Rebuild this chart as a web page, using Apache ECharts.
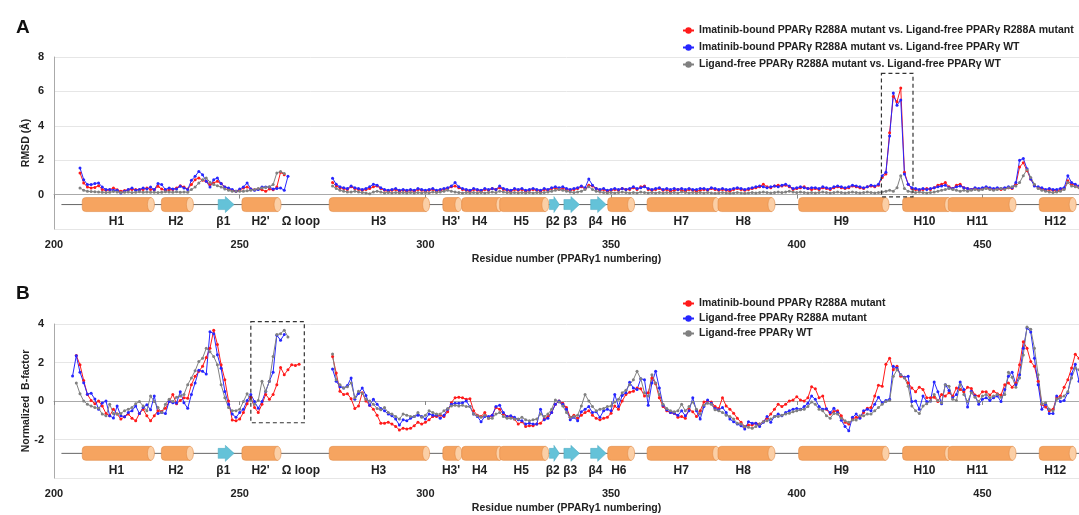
<!DOCTYPE html>
<html>
<head>
<meta charset="utf-8">
<script src="https://cdn.jsdelivr.net/npm/echarts@6/dist/echarts.min.js"></script>
<style>
html, body { margin: 0; padding: 0; background: #fff; }
#chart { width: 1079px; height: 515px; }
</style>
</head>
<body>
<div id="chart"></div>
<script>
// ---- series names ----
var namesA = [
    'Imatinib-bound PPARγ R288A mutant vs. Ligand-free PPARγ R288A mutant',
    'Imatinib-bound PPARγ R288A mutant vs. Ligand-free PPARγ WT',
    'Ligand-free PPARγ R288A mutant vs. Ligand-free PPARγ WT'
];
var namesB = [
    'Imatinib-bound PPARγ R288A mutant',
    'Ligand-free PPARγ R288A mutant',
    'Ligand-free PPARγ WT'
];

// ---- panel A: RMSD, first residue of each segment ----
var rmsdStart1 = [207, 207, 207];
var rmsdStart2 = [275, 275, 275];

var rmsdRed1 = [
    1.26, 0.68, 0.44, 0.39, 0.42, 0.52, 0.29, 0.25, 0.28, 0.39,
    0.28, 0.19, 0.24, 0.28, 0.3, 0.3, 0.28, 0.3, 0.39, 0.3,
    0.28, 0.48, 0.32, 0.25, 0.28, 0.3, 0.39, 0.52, 0.44, 0.32,
    0.58, 0.87, 0.97, 0.83, 0.77, 0.58, 0.68, 0.77, 0.64, 0.44,
    0.33, 0.25, 0.19, 0.25, 0.39, 0.44, 0.33, 0.28, 0.33, 0.28,
    0.19, 0.33, 0.28, 0.44, 1.3, 1.16
];
var rmsdBlue1 = [
    1.55, 0.87, 0.58, 0.58, 0.64, 0.68, 0.44, 0.29, 0.29, 0.25,
    0.25, 0.1, 0.19, 0.29, 0.39, 0.25, 0.29, 0.39, 0.33, 0.44,
    0.29, 0.64, 0.58, 0.29, 0.39, 0.33, 0.33, 0.48, 0.39, 0.29,
    0.83, 1.06, 1.35, 1.16, 0.77, 0.44, 0.87, 0.97, 0.64, 0.44,
    0.39, 0.29, 0.19, 0.33, 0.44, 0.68, 0.33, 0.25, 0.3, 0.44,
    0.44, 0.44, 0.33, 0.35, 0.39, 0.25, 1.06
];
var rmsdGray1 = [
    0.39, 0.25, 0.19, 0.18, 0.16, 0.15, 0.14, 0.12, 0.14, 0.18,
    0.15, 0.12, 0.14, 0.15, 0.12, 0.14, 0.16, 0.14, 0.15, 0.14,
    0.14, 0.12, 0.14, 0.16, 0.15, 0.14, 0.16, 0.14, 0.15, 0.14,
    0.29, 0.44, 0.68, 0.87, 0.97, 0.72, 0.58, 0.52, 0.44, 0.33,
    0.25, 0.19, 0.19, 0.19, 0.2, 0.22, 0.25, 0.3, 0.35, 0.39,
    0.42, 0.45, 0.58, 1.26, 1.35, 1.22
];
var rmsdRed2 = [
    0.7, 0.5, 0.4, 0.35, 0.3, 0.45, 0.35, 0.3, 0.25, 0.3,
    0.35, 0.45, 0.5, 0.35, 0.25, 0.2, 0.25, 0.3, 0.2, 0.25,
    0.2, 0.25, 0.2, 0.3, 0.25, 0.2, 0.25, 0.3, 0.2, 0.25,
    0.3, 0.35, 0.45, 0.5, 0.4, 0.3, 0.25, 0.2, 0.3, 0.25,
    0.2, 0.3, 0.25, 0.35, 0.3, 0.4, 0.3, 0.25, 0.2, 0.3,
    0.25, 0.3, 0.2, 0.25, 0.3, 0.25, 0.2, 0.3, 0.25, 0.35,
    0.4, 0.3, 0.35, 0.3, 0.25, 0.3, 0.35, 0.45, 0.35, 0.55,
    0.5, 0.35, 0.25, 0.3, 0.2, 0.25, 0.3, 0.25, 0.35, 0.3,
    0.3, 0.4, 0.3, 0.45, 0.5, 0.3, 0.25, 0.3, 0.35, 0.25,
    0.3, 0.2, 0.25, 0.3, 0.25, 0.2, 0.3, 0.25, 0.2, 0.25,
    0.3, 0.25, 0.35, 0.3, 0.25, 0.3, 0.25, 0.2, 0.3, 0.35,
    0.3, 0.25, 0.3, 0.35, 0.4, 0.45, 0.6, 0.45, 0.4, 0.5,
    0.55, 0.5, 0.55, 0.45, 0.3, 0.35, 0.4, 0.45, 0.35, 0.3,
    0.35, 0.3, 0.4, 0.35, 0.3, 0.4, 0.45, 0.4, 0.35, 0.4,
    0.5, 0.45, 0.4, 0.35, 0.45, 0.5, 0.45, 0.55, 1.0, 1.2,
    3.6, 5.7, 5.4, 6.2, 1.3, 0.6, 0.35, 0.3, 0.25, 0.3,
    0.35, 0.3, 0.4, 0.55, 0.6, 0.7, 0.45, 0.35, 0.55, 0.6,
    0.4, 0.35, 0.3, 0.35, 0.3, 0.35, 0.4, 0.35, 0.3, 0.35,
    0.3, 0.35, 0.4, 0.35, 0.6, 1.6, 1.85, 1.4, 0.9, 0.55,
    0.4, 0.35, 0.25, 0.3, 0.25, 0.2, 0.3, 0.35, 0.8, 0.6,
    0.55, 0.45
];
var rmsdBlue2 = [
    0.95, 0.6, 0.45, 0.4, 0.35, 0.5, 0.4, 0.35, 0.3, 0.35,
    0.45, 0.6, 0.55, 0.4, 0.3, 0.25, 0.3, 0.35, 0.25, 0.3,
    0.25, 0.3, 0.25, 0.35, 0.3, 0.25, 0.3, 0.35, 0.25, 0.3,
    0.35, 0.4, 0.5, 0.7, 0.45, 0.35, 0.3, 0.25, 0.35, 0.3,
    0.25, 0.35, 0.3, 0.35, 0.3, 0.5, 0.35, 0.3, 0.25, 0.35,
    0.3, 0.35, 0.25, 0.3, 0.35, 0.3, 0.25, 0.35, 0.3, 0.4,
    0.45, 0.4, 0.45, 0.35, 0.3, 0.35, 0.4, 0.5, 0.4, 0.9,
    0.55, 0.35, 0.3, 0.35, 0.25, 0.3, 0.35, 0.3, 0.35, 0.3,
    0.35, 0.45, 0.35, 0.4, 0.45, 0.35, 0.3, 0.35, 0.4, 0.3,
    0.35, 0.3, 0.35, 0.3, 0.35, 0.3, 0.35, 0.3, 0.3, 0.35,
    0.35, 0.3, 0.4, 0.35, 0.3, 0.35, 0.3, 0.3, 0.35, 0.4,
    0.35, 0.3, 0.35, 0.4, 0.45, 0.5, 0.45, 0.4, 0.45, 0.5,
    0.45, 0.55, 0.6, 0.5, 0.35, 0.4, 0.45, 0.4, 0.35, 0.4,
    0.4, 0.35, 0.45, 0.4, 0.35, 0.45, 0.5, 0.45, 0.4, 0.45,
    0.55, 0.5, 0.45, 0.4, 0.45, 0.55, 0.5, 0.6, 1.1, 1.3,
    3.4, 5.9, 5.2, 5.5, 1.2, 0.6, 0.4, 0.35, 0.3, 0.35,
    0.3, 0.35, 0.4, 0.45, 0.5, 0.55, 0.4, 0.35, 0.45, 0.5,
    0.4, 0.35, 0.3, 0.4, 0.35, 0.4, 0.45, 0.4, 0.35, 0.4,
    0.35, 0.4, 0.45, 0.4, 0.7, 2.0, 2.1, 1.5, 0.9, 0.5,
    0.45, 0.4, 0.3, 0.35, 0.3, 0.3, 0.35, 0.4, 1.1, 0.7,
    0.6, 0.5
];
var rmsdGray2 = [
    0.5, 0.35, 0.25, 0.2, 0.15, 0.15, 0.2, 0.15, 0.12, 0.1,
    0.05, 0.15, 0.2, 0.15, 0.1, 0.12, 0.1, 0.12, 0.1, 0.12,
    0.1, 0.12, 0.1, 0.12, 0.1, 0.12, 0.1, 0.15, 0.12, 0.15,
    0.2, 0.25, 0.2, 0.15, 0.12, 0.1, 0.12, 0.1, 0.12, 0.1,
    0.12, 0.1, 0.12, 0.15, 0.12, 0.2, 0.15, 0.12, 0.1, 0.12,
    0.1, 0.12, 0.1, 0.12, 0.1, 0.12, 0.1, 0.12, 0.15, 0.2,
    0.25, 0.3, 0.25, 0.2, 0.15, 0.12, 0.15, 0.2, 0.3, 0.45,
    0.3, 0.2, 0.15, 0.12, 0.1, 0.12, 0.1, 0.12, 0.15, 0.12,
    0.1, 0.12, 0.1, 0.15, 0.12, 0.1, 0.12, 0.1, 0.12, 0.1,
    0.12, 0.1, 0.12, 0.1, 0.15, 0.12, 0.1, 0.12, 0.1, 0.12,
    0.1, 0.12, 0.1, 0.08, 0.1, 0.12, 0.1, 0.08, 0.1, 0.12,
    0.1, 0.08, 0.1, 0.12, 0.1, 0.12, 0.15, 0.12, 0.1, 0.12,
    0.15, 0.12, 0.15, 0.2, 0.15, 0.12, 0.15, 0.12, 0.1, 0.12,
    0.1, 0.12, 0.15, 0.12, 0.1, 0.12, 0.15, 0.12, 0.1, 0.12,
    0.15, 0.12, 0.1, 0.12, 0.15, 0.12, 0.1, 0.12, 0.15, 0.2,
    0.25, 0.2, 0.4, 1.1, 0.35, 0.2, 0.15, 0.12, 0.15, 0.12,
    0.1, 0.12, 0.15, 0.2, 0.25, 0.3, 0.35, 0.3, 0.25, 0.2,
    0.25, 0.2, 0.25, 0.3, 0.25, 0.3, 0.35, 0.3, 0.25, 0.3,
    0.35, 0.3, 0.4, 0.45, 0.5, 0.7, 1.1, 1.45, 1.0, 0.6,
    0.35, 0.25, 0.2, 0.15, 0.12, 0.15, 0.2, 0.3, 0.7, 0.5,
    0.45, 0.4
];

// ---- panel B: normalized B-factor ----
var bfStart1 = [206, 205, 206];
var bfStart2 = [275, 275, 275];

var bfRed1 = [
    2.36, 1.88, 1.06, 0.34, 0.03, -0.14, 0.0, -0.26, -0.65, -0.77,
    -0.43, -0.68, -0.94, -0.82, -0.68, -0.89, -1.03, -0.65, -0.43, -0.77,
    -1.03, -0.77, -0.5, -0.55, -0.38, -0.03, 0.34, -0.14, 0.03, 0.17,
    0.14, 0.85, 1.28, 1.54, 1.8, 2.26, 2.74, 3.68, 2.94, 1.88,
    1.11, 0.0, -0.99, -1.03, -0.94, -0.6, -0.14, 0.2, -0.34, -0.6,
    -0.17, 0.34, 0.09, 0.34, 0.85, 1.74, 1.37, 1.62, 1.88, 1.85, 1.91
];
var bfBlue1 = [
    1.3, 2.35, 1.5, 0.95, 0.35, 0.4, 0.1, -0.43, -0.1, 0.0,
    -0.77, -0.88, -0.26, -0.77, -0.82, -0.6, -0.5, -0.26, -0.65, -0.34,
    -0.2, -0.45, 0.26, -0.65, -0.6, -0.65, -0.03, -0.09, -0.1, 0.48,
    -0.09, -0.38, 0.34, 0.94, 1.6, 1.54, 1.4, 3.6, 3.5, 2.4,
    1.7, 0.5, -0.17, -0.68, -0.85, -0.6, -0.43, 0.03, 0.34, -0.03,
    -0.38, -0.03, 0.5, 1.03, 1.5, 3.42, 3.16, 3.45
];
var bfGray1 = [
    0.94, 0.38, 0, -0.17, -0.26, -0.34, -0.38, -0.68, -0.77, -0.17,
    -0.65, -0.68, -0.65, -0.5, -0.43, -0.34, -0.14, -0.03, -0.26, -0.5,
    0.26, -0.03, -0.34, -0.6, -0.17, 0.09, -0.03, 0.2, 0.26, 0.34,
    0.85, 1.2, 1.57, 2.05, 2.22, 2.74, 2.56, 2.31, 1.88, 0.85,
    0.17, -0.34, -0.5, -0.5, -0.43, -0.03, 0.38, 0.03, -0.17, 0.03,
    1.03, 0.51, 1.03, 2.31, 3.45, 3.5, 3.68, 3.33
];
var bfRed2 = [
    2.31, 1.45, 0.51, 0.34, 0.38, 0.12, -0.39, -0.26, 0.43, 0.0,
    -0.22, -0.43, -0.74, -1.15, -1.15, -1.1, -1.2, -1.32, -1.5, -1.42,
    -1.45, -1.42, -1.28, -1.11, -1.2, -1.11, -0.97, -0.8, -0.8, -0.74,
    -0.8, -0.56, -0.09, 0.17, 0.2, 0.17, 0.09, 0.12, -0.51, -0.74,
    -0.8, -0.6, -0.9, -0.74, -0.34, -0.43, -0.68, -0.8, -0.8, -0.94,
    -1.2, -1.08, -1.32, -1.28, -1.28, -1.2, -1.15, -0.94, -0.8, -0.6,
    -0.17, 0.0, -0.12, -0.34, -0.85, -0.74, -0.9, -0.74, -0.6, -0.51,
    -0.74, -0.9, -0.97, -0.9, -0.85, -0.63, -0.26, -0.43, 0.0, 0.34,
    0.46, 0.51, 0.68, 0.63, 0.26, 0.43, 1.2, 0.9, 0.17, -0.29,
    -0.51, -0.6, -0.63, -0.85, -0.8, -0.9, -0.43, -0.56, -0.8, -0.51,
    -0.05, 0.0, -0.05, -0.29, -0.39, 0.17, -0.26, -0.43, -0.63, -0.9,
    -1.11, -1.32, -1.25, -1.25, -1.15, -1.2, -1.08, -0.9, -0.68, -0.43,
    -0.17, -0.29, -0.17, 0.0, 0.05, 0.22, 0.05, 0.0, 0.17, 0.74,
    0.63, 0.17, 0.26, -0.43, -0.68, -0.55, -0.5, -0.77, -1.11, -1.2,
    -0.94, -0.85, -0.85, -0.6, -0.38, -0.34, 0.26, 0.82, 0.77, 1.91,
    2.22, 1.62, 1.8, 1.28, 1.23, 0.94, 0.68, 0.48, 0.72, 0.6,
    0.17, 0.17, 0.2, -0.03, 0.34, 0.26, 0.43, 0.26, 0.68, 0.6,
    0.48, 0.72, 0.65, 0.31, 0.26, 0.48, 0.48, 0.31, 0.51, 0.38,
    0.31, 0.85, 0.94, 0.72, 0.94, 1.88, 3.08, 2.74, 2.05, 1.8,
    1.03, -0.17, -0.31, -0.51, -0.43, 0.17, 0.26, 0.72, 1.11, 1.71,
    2.43, 2.22
];
var bfBlue2 = [
    1.66, 1.03, 0.74, 0.68, 0.8, 1.2, 0.09, 0.39, 0.68, 0.29,
    -0.22, 0.09, -0.17, -0.39, -0.51, -0.68, -0.77, -0.94, -1.25, -0.97,
    -1.03, -0.9, -0.8, -0.74, -0.8, -0.94, -0.68, -0.74, -0.74, -0.9,
    -0.74, -0.43, -0.17, -0.12, -0.12, -0.09, 0.0, -0.29, -0.68, -0.8,
    -1.08, -0.8, -0.8, -0.74, -0.29, -0.22, -0.6, -0.8, -0.77, -0.85,
    -0.97, -1.03, -1.2, -1.15, -1.2, -1.2, -0.43, -0.97, -0.9, -0.6,
    -0.17, 0.0, -0.17, -0.43, -0.97, -0.85, -1.03, -0.56, -0.43, -0.29,
    -0.6, -0.56, -0.85, -0.51, -0.43, -0.51, 0.34, -0.29, 0.29, 0.43,
    0.97, 0.68, 0.6, 1.15, 1.11, -0.22, 0.94, 1.54, 0.68, -0.22,
    -0.46, -0.6, -0.63, -0.74, -0.51, -0.77, -0.51, 0.17, -0.51, -0.94,
    -0.29, 0.05, -0.12, -0.39, -0.46, -0.34, -0.6, -0.94, -1.08, -1.2,
    -1.28, -1.45, -1.08, -1.15, -1.15, -1.32, -1.11, -0.8, -1.11, -0.8,
    -0.68, -0.77, -0.6, -0.51, -0.43, -0.39, -0.43, -0.29, -0.12, 0.26,
    0.09, -0.29, -0.43, -0.4, -0.6, -0.38, -0.6, -1.0, -1.33, -1.54,
    -0.85, -0.68, -0.89, -0.51, -0.43, -0.5, -0.17, 0.2, -0.09, 0.03,
    0.09, 1.8, 1.71, 1.37, 1.23, 1.28, -0.03, 0.0, -0.43, 0.26,
    -0.03, 0.0, 0.99, 0.48, -0.14, 0.85, 0.55, 0.17, 0.34, 0.99,
    0.6, -0.31, 0.51, 0.26, -0.17, 0.09, 0.17, 0.03, 0.17, 0.26,
    -0.03, 0.6, 1.28, 1.5, 0.85, 1.37, 2.74, 3.79, 3.59, 2.22,
    0.85, -0.43, -0.17, -0.65, -0.65, 0.26, -0.03, 0.03, 0.43, 1.4,
    1.91, 1.03
];
var bfGray2 = [
    2.44, 1.11, 0.85, 0.68, 0.74, 0.94, 0.17, 0.51, 0.39, 0.09,
    0.0, -0.17, -0.39, -0.46, -0.34, -0.6, -0.68, -0.8, -0.94, -0.68,
    -0.74, -0.8, -0.8, -0.6, -0.85, -0.74, -0.51, -0.6, -0.68, -0.68,
    -0.51, -0.39, -0.26, -0.22, -0.26, -0.22, -0.29, -0.29, -0.68, -0.77,
    -0.85, -0.74, -0.9, -0.9, -0.68, -0.6, -0.8, -0.9, -0.9, -0.94,
    -0.94, -0.85, -0.97, -1.03, -0.97, -0.94, -0.68, -0.8, -0.68, -0.43,
    0.05, -0.05, -0.26, -0.6, -0.85, -0.8, -0.74, -0.26, 0.34, 0.0,
    -0.29, -0.51, -0.43, -0.39, -0.29, -0.26, -0.05, 0.09, 0.43, 0.56,
    0.85, 1.11, 1.54, 1.15, 0.43, 0.26, 1.37, 0.94, 0.34, -0.17,
    -0.39, -0.51, -0.56, -0.51, -0.17, -0.51, -0.29, -0.05, -0.43, -0.68,
    -0.22, -0.12, -0.17, -0.46, -0.51, -0.6, -0.74, -0.8, -0.94, -1.15,
    -1.2, -1.32, -1.37, -1.42, -1.32, -1.2, -1.08, -1.03, -0.94, -0.8,
    -0.8, -0.74, -0.68, -0.63, -0.56, -0.51, -0.46, -0.43, -0.29, -0.05,
    -0.17, -0.43, -0.51, -0.77, -0.89, -0.65, -0.68, -0.9, -1.03, -1.11,
    -0.99, -0.99, -0.77, -0.77, -0.68, -0.68, -0.51, -0.34, -0.17, -0.03,
    0.03, 1.28, 1.62, 1.37, 1.2, 0.77, -0.26, -0.51, -0.65, -0.26,
    -0.14, 0.0, 0.34, 0.03, -0.09, 0.85, 0.77, 0.09, 0.03, 0.85,
    0.34, -0.03, 0.43, 0.2, -0.03, 0.26, 0.34, 0.17, 0.26, 0.34,
    0.2, 0.34, 1.5, 1.23, 0.72, 1.2, 2.39, 3.85, 3.73, 2.74,
    1.37, -0.14, -0.09, -0.43, -0.51, 0.09, 0.17, 0.26, 0.48, 1.2,
    1.71, 1.62
];

// ---- secondary structure (residue numbers) ----
var helixStart = [207.6, 228.9, 250.6, 274.1, 304.7, 309.8, 320.0, 349.1, 359.7, 378.8, 400.5, 428.5, 440.8, 465.3];
var helixEnd   = [226.1, 236.6, 260.2, 300.2, 308.9, 320.0, 332.3, 355.4, 378.3, 393.2, 423.9, 440.8, 458.1, 474.3];
var strandStart = [244.2, 333.4, 337.3, 344.5];
var strandEnd   = [248.5, 336.1, 341.5, 348.7];
var ssLabels   = ['H1', 'H2', 'β1', "H2'", 'Ω loop', 'H3', "H3'", 'H4', 'H5', 'β2', 'β3', 'β4', 'H6', 'H7', 'H8', 'H9', 'H10', 'H11', 'H12'];
var ssLabelPos = [216.8, 232.8, 245.6, 255.6, 266.5, 287.4, 306.9, 314.6, 325.8, 334.3, 339.0, 345.8, 352.1, 368.9, 385.6, 412.0, 434.4, 448.6, 469.6];
var ssSpan = [202, 477];

// dashed boxes [x1, y1, x2, y2]
var boxA = [422.8, 7.05, 431.3, -0.13];
var boxB = [253.0, 4.12, 267.4, -1.13];

var colors = ['#ff1a1a', '#2626ff', '#808080'];

function toPairs(start, vals) {
    return vals.map(function (v, i) { return [start + i, v]; });
}
function joinSegs(s1, v1, s2, v2) {
    return toPairs(s1, v1).concat([[s1 + v1.length, '-']], toPairs(s2, v2));
}

function lineSeries(name, idx, data, color) {
    return {
        name: name,
        type: 'line',
        xAxisIndex: idx,
        yAxisIndex: idx,
        data: data,
        symbol: 'circle',
        symbolSize: 3,
        showSymbol: true,
        lineStyle: { width: 1, color: color },
        itemStyle: { color: color },
        emphasis: { disabled: true },
        animation: false
    };
}

function ssLineItem(level) {
    return function (params, api) {
        var p1 = api.coord([api.value(0), level]);
        var p2 = api.coord([api.value(1), level]);
        return {
            type: 'line',
            shape: { x1: p1[0], y1: p1[1], x2: p2[0], y2: p2[1] },
            style: { stroke: '#666', lineWidth: 1 }
        };
    };
}

function helixItem(level) {
    return function (params, api) {
        var p1 = api.coord([api.value(0), level]);
        var p2 = api.coord([api.value(1), level]);
        var h = 14, rx = 3.5;
        return {
            type: 'group',
            children: [
                {
                    type: 'rect',
                    shape: { x: p1[0], y: p1[1] - h / 2, width: p2[0] - p1[0], height: h, r: [rx, 0, 0, rx] },
                    style: { fill: '#f6a460', stroke: '#e38c46', lineWidth: 0.6 }
                },
                {
                    type: 'ellipse',
                    shape: { cx: p2[0], cy: p2[1], rx: rx, ry: h / 2 },
                    style: { fill: '#fbcfa6', stroke: '#e38c46', lineWidth: 0.6 }
                }
            ]
        };
    };
}

function strandItem(level) {
    return function (params, api) {
        var p1 = api.coord([api.value(0), level]);
        var p2 = api.coord([api.value(1), level]);
        var y = p1[1];
        var xm = p1[0] + (p2[0] - p1[0]) * 0.45;
        return {
            type: 'polygon',
            shape: {
                points: [[p1[0], y - 5], [xm, y - 5], [xm, y - 8], [p2[0], y], [xm, y + 8], [xm, y + 5], [p1[0], y + 5]]
            },
            style: { fill: '#64c2d8', stroke: '#4aa8c0', lineWidth: 0.5 }
        };
    };
}

function labelItem(level) {
    return function (params, api) {
        var p = api.coord([api.value(0), level]);
        return {
            type: 'text',
            style: {
                text: ssLabels[params.dataIndex],
                x: p[0],
                y: p[1] + 17,
                align: 'center',
                verticalAlign: 'middle',
                textAlign: 'center',
                textVerticalAlign: 'middle',
                fill: '#222',
                font: 'bold 12px "Liberation Sans", Arial, sans-serif'
            }
        };
    };
}

function boxItem(params, api) {
    var p1 = api.coord([api.value(0), api.value(1)]);
    var p2 = api.coord([api.value(2), api.value(3)]);
    return {
        type: 'rect',
        shape: { x: p1[0], y: p1[1], width: p2[0] - p1[0], height: p2[1] - p1[1] },
        style: { fill: 'none', stroke: '#333', lineWidth: 1.2, lineDash: [4, 3] }
    };
}

function ssSeries(idx, level) {
    function custom(render, data) {
        return {
            type: 'custom', xAxisIndex: idx, yAxisIndex: idx, silent: true,
            renderItem: render, data: data, animation: false, z: 1
        };
    }
    return [
        custom(ssLineItem(level), [ssSpan]),
        custom(helixItem(level), helixStart.map(function (s, i) { return [s, helixEnd[i]]; })),
        custom(strandItem(level), strandStart.map(function (s, i) { return [s, strandEnd[i]]; })),
        custom(labelItem(level), ssLabelPos.map(function (p) { return [p, 0]; }))
    ];
}

var axisFont = { color: '#222', fontWeight: 'bold', fontSize: 11 };

function xAxisDef(idx) {
    return {
        type: 'value', gridIndex: idx, min: 200, max: 476, interval: 50,
        axisLine: { show: true, lineStyle: { color: '#aaa' } },
        axisTick: { show: true, length: 4, lineStyle: { color: '#888' } },
        axisLabel: Object.assign({ margin: 10, showMaxLabel: false }, axisFont),
        splitLine: { show: false },
        name: 'Residue number (PPARγ1 numbering)',
        nameLocation: 'middle',
        nameGap: 25,
        nameTextStyle: { color: '#222', fontWeight: 'bold', fontSize: 10.5 }
    };
}

function yAxisDef(idx, min, max, name) {
    return {
        type: 'value', gridIndex: idx, min: min, max: max, interval: 2,
        axisLine: { show: true, lineStyle: { color: '#aaa' } },
        axisTick: { show: false },
        axisLabel: Object.assign({ margin: 10, showMinLabel: false }, axisFont),
        splitLine: { lineStyle: { color: '#e6e6e6' } },
        name: name,
        nameLocation: 'middle',
        nameRotate: 90,
        nameGap: 22,
        nameMoveOverlap: false,
        nameTextStyle: { color: '#222', fontWeight: 'bold', fontSize: 10.5 }
    };
}

var chart = echarts.init(document.getElementById('chart'));

var series = [
    lineSeries(namesA[0], 0, joinSegs(rmsdStart1[0], rmsdRed1, rmsdStart2[0], rmsdRed2), colors[0]),
    lineSeries(namesA[1], 0, joinSegs(rmsdStart1[1], rmsdBlue1, rmsdStart2[1], rmsdBlue2), colors[1]),
    lineSeries(namesA[2], 0, joinSegs(rmsdStart1[2], rmsdGray1, rmsdStart2[2], rmsdGray2), colors[2]),
    lineSeries(namesB[0], 1, joinSegs(bfStart1[0], bfRed1, bfStart2[0], bfRed2), colors[0]),
    lineSeries(namesB[1], 1, joinSegs(bfStart1[1], bfBlue1, bfStart2[1], bfBlue2), colors[1]),
    lineSeries(namesB[2], 1, joinSegs(bfStart1[2], bfGray1, bfStart2[2], bfGray2), colors[2])
];
series = series.concat(ssSeries(0, -0.58), ssSeries(1, -2.72));
series.push({ type: 'custom', xAxisIndex: 0, yAxisIndex: 0, silent: true, renderItem: boxItem, data: [boxA], z: 5 });
series.push({ type: 'custom', xAxisIndex: 1, yAxisIndex: 1, silent: true, renderItem: boxItem, data: [boxB], z: 5 });

var option = {
    animation: false,
    textStyle: { fontFamily: '"Liberation Sans", Arial, sans-serif' },
    title: [
        { text: 'A', left: 11, top: 13, textStyle: { fontSize: 19, fontWeight: 'bold', color: '#111' } },
        { text: 'B', left: 11, top: 279, textStyle: { fontSize: 19, fontWeight: 'bold', color: '#111' } }
    ],
    legend: [
        {
            data: namesA, orient: 'vertical', left: 677, top: 20, itemWidth: 11, itemHeight: 8, itemGap: 6,
            selectedMode: false, textStyle: { color: '#222', fontWeight: 'bold', fontSize: 10.5 }
        },
        {
            data: namesB, orient: 'vertical', left: 677, top: 293, itemWidth: 11, itemHeight: 8, itemGap: 4,
            selectedMode: false, textStyle: { color: '#222', fontWeight: 'bold', fontSize: 10.5 }
        }
    ],
    grid: [
        { left: 54, right: 0, top: 57, height: 172 },
        { left: 54, right: 0, top: 324, height: 157 }
    ],
    xAxis: [xAxisDef(0), xAxisDef(1)],
    yAxis: [yAxisDef(0, -2, 8, 'RMSD (Å)'), yAxisDef(1, -4, 4, 'Normalized  B-factor')],
    series: series
};

option && chart.setOption(option);
</script>
</body>
</html>
